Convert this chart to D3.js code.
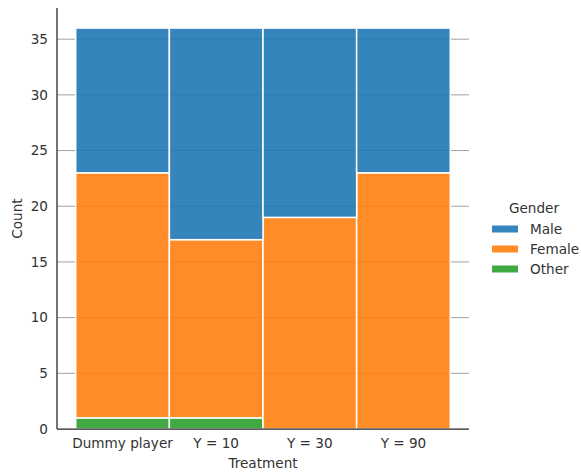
<!DOCTYPE html>
<html><head><meta charset="utf-8">
<script src="https://cdn.jsdelivr.net/npm/d3@7"></script>
<style>body{margin:0;background:#fff}text{font-family:"DejaVu Sans",sans-serif;fill:#333}</style>
</head><body><svg id="c" width="581" height="475"></svg>
<script>
const categories = ["Dummy player", "Y = 10", "Y = 30", "Y = 90"];
const genders = ["Male", "Female", "Other"];
const other = [1, 1, 0, 0];
const female = [22, 16, 19, 23];
const male = [13, 19, 17, 13];
const yTicks = [0, 5, 10, 15, 20, 25, 30, 35];
const colors = {Male: "#1f77b4", Female: "#ff7f0e", Other: "#2ca02c"};

(function () {
const svg = d3.select("#c");
const fs = 13.6;
const mL = 57, mR = 469, mT = 8, mB = 429;
const x = d3.scaleLinear().domain([-0.7, 3.7]).range([mL, mR]);
const y = d3.scaleLinear().domain([0, 37.8]).range([mB, mT]);

// grid
svg.append("g").selectAll("line").data(yTicks.filter(d => d > 0)).join("line")
  .attr("x1", mL).attr("x2", mR).attr("y1", d => y(d)).attr("y2", d => y(d))
  .attr("stroke", "#a0a0a0").attr("stroke-width", 1);

// stacked bars
const rows = categories.map((c, i) => ({cat: c, i, Other: other[i], Female: female[i], Male: male[i]}));
const stack = d3.stack().keys(["Other", "Female", "Male"])(rows);
stack.forEach(layer => {
  svg.append("g").selectAll("rect").data(layer.filter(d => d[1] - d[0] > 0)).join("rect")
    .attr("x", d => x(d.data.i - 0.5)).attr("width", d => x(d.data.i + 0.5) - x(d.data.i - 0.5))
    .attr("y", d => y(d[1])).attr("height", d => y(d[0]) - y(d[1]))
    .attr("fill", colors[layer.key]).attr("fill-opacity", 0.9)
    .attr("stroke", "#fff").attr("stroke-width", 1.5);
});

// axes
svg.append("line").attr("x1", mL).attr("x2", mL).attr("y1", mT).attr("y2", mB).attr("stroke", "#222").attr("stroke-width", 1.25);
svg.append("line").attr("x1", mL).attr("x2", mR).attr("y1", mB).attr("y2", mB).attr("stroke", "#222").attr("stroke-width", 1.25);

svg.append("g").selectAll("text").data(yTicks).join("text")
  .attr("x", mL - 9).attr("y", d => y(d)).attr("dy", "0.35em").attr("text-anchor", "end")
  .attr("font-size", fs).text(d => d);
svg.append("g").selectAll("text").data(categories).join("text")
  .attr("x", (d, i) => x(i)).attr("y", mB + 19).attr("text-anchor", "middle")
  .attr("font-size", fs).text(d => d);

svg.append("text").attr("x", x(1.5)).attr("y", 468).attr("text-anchor", "middle").attr("font-size", fs).text("Treatment");
svg.append("text").attr("transform", `translate(22,${(mT + mB) / 2}) rotate(-90)`).attr("text-anchor", "middle").attr("font-size", fs).text("Count");

// legend
const lg = svg.append("g");
lg.append("text").attr("x", 534).attr("y", 213).attr("text-anchor", "middle").attr("font-size", fs).text("Gender");
genders.forEach((g, i) => {
  const yy = 229 + i * 20;
  lg.append("rect").attr("x", 492).attr("y", yy - 3.5).attr("width", 26).attr("height", 7)
    .attr("fill", colors[g]).attr("fill-opacity", 0.9);
  lg.append("text").attr("x", 530).attr("y", yy).attr("dy", "0.35em").attr("font-size", fs).text(g);
});
})();
</script></body></html>
